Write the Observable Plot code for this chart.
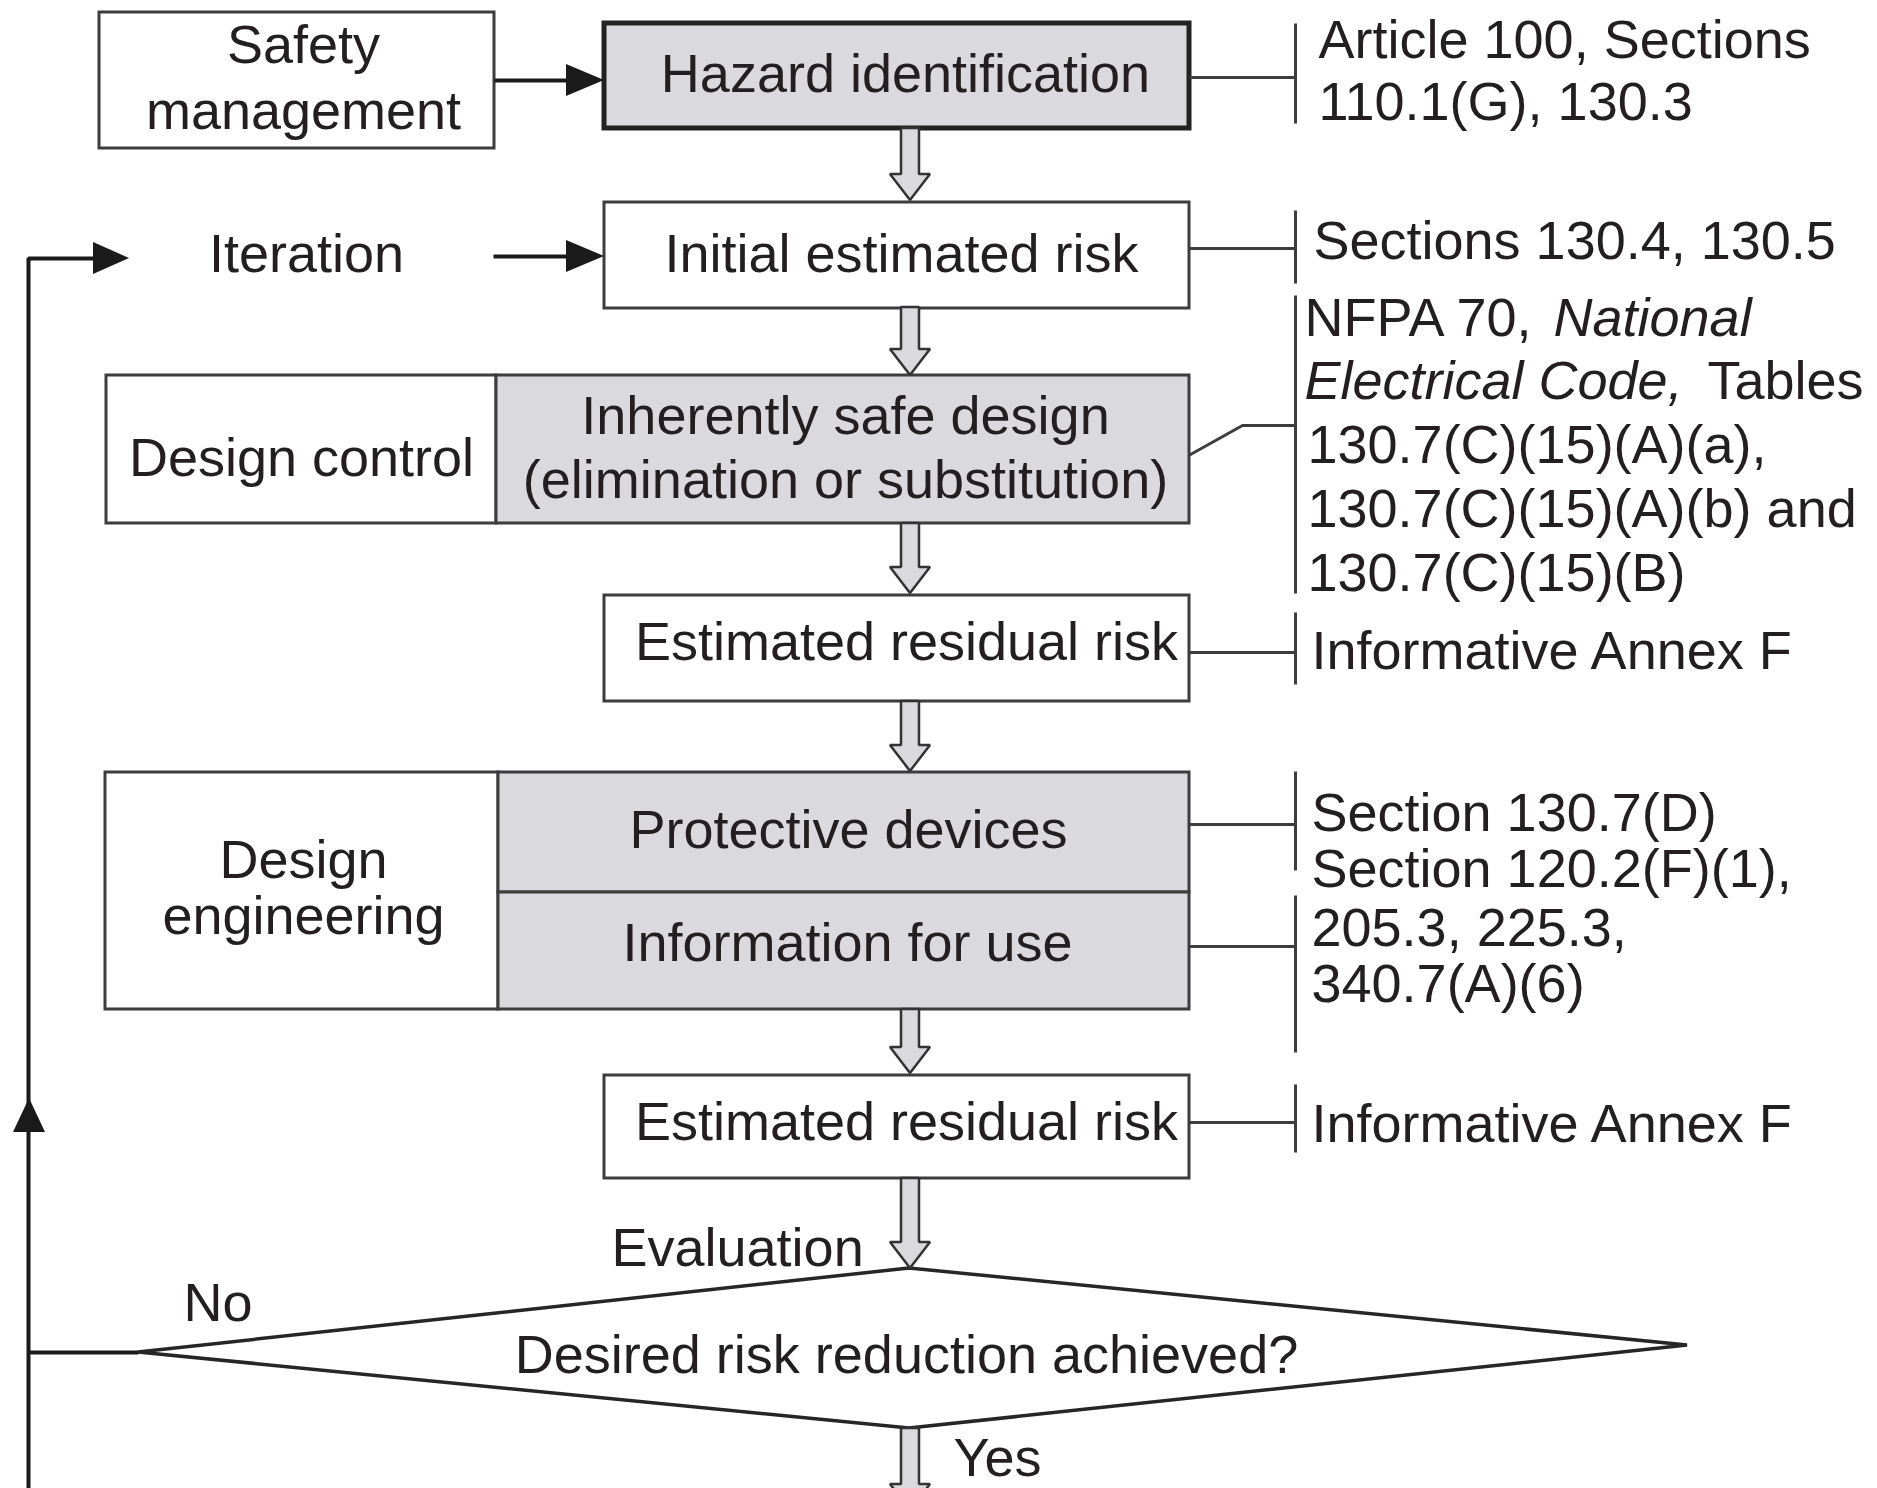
<!DOCTYPE html>
<html>
<head>
<meta charset="utf-8">
<script src="https://cdn.jsdelivr.net/npm/d3@7"></script>
<script src="https://cdn.jsdelivr.net/npm/@observablehq/plot@0.6"></script>
<style>
  html, body { margin: 0; padding: 0; background: #fff; overflow: hidden; }
  #chart svg { display: block; }
</style>
</head>
<body>
<div id="chart"></div>
<script>
// ---------------- content (text only) ----------------
const boxLines = [
  "Safety", "management",
  "Hazard identification",
  "Iteration",
  "Initial estimated risk",
  "Design control",
  "Inherently safe design", "(elimination or substitution)",
  "Estimated residual risk",
  "Design", "engineering",
  "Protective devices",
  "Information for use",
  "Estimated residual risk",
  "Desired risk reduction achieved?"
];
const flowLabels = ["Evaluation", "No", "Yes"];
const refLines = [
  "Article 100, Sections", "110.1(G), 130.3",
  "Sections 130.4, 130.5",
  "130.7(C)(15)(A)(a),", "130.7(C)(15)(A)(b) and", "130.7(C)(15)(B)",
  "Informative Annex F",
  "Section 130.7(D)", "Section 120.2(F)(1),", "205.3, 225.3,", "340.7(A)(6)",
  "Informative Annex F"
];
const refSegments = ["NFPA 70,", "National", "Electrical Code,", "Tables"];

// ---------------- layout (positions, sizes, styles) ----------------
const W = 1877, H = 1488;
const INK = "#231f20", LINE = "#3d3d3d", GRAY = "#d9d9de";
const FONT = "Liberation Sans, Arial, Helvetica, sans-serif";
const FS = 54;

const boxLinePos = [
  [303, 62], [303, 128],
  [905, 91],
  [306, 271],
  [901, 271],
  [301, 475],
  [845, 433], [845, 497],
  [906, 659],
  [303, 877], [303, 933],
  [848, 847],
  [847, 960],
  [906, 1139],
  [906, 1372]
];
const flowLabelPos = [[611, 1265], [183, 1320], [953, 1475]];
const refLinePos = [
  [1318, 57], [1318, 119],
  [1313, 258],
  [1307, 462], [1307, 526], [1307, 590],
  [1311, 668],
  [1311, 830], [1311, 886], [1311, 945], [1311, 1001],
  [1311, 1141]
];
const refSegPos = [[1304, 335], [1553, 335], [1304, 398], [1707, 398]];
const refSegItalic = [false, true, true, false];

// rects: x1, x2, y1, y2, fill
const boxRects = [
  [99, 494, 12, 148, "#ffffff"],
  [604, 1189, 202, 308, "#ffffff"],
  [106, 496, 375, 523, "#ffffff"],
  [496, 1189, 375, 523, GRAY],
  [604, 1189, 595, 701, "#ffffff"],
  [105, 498, 772, 1009, "#ffffff"],
  [498, 1189, 772, 892, GRAY],
  [498, 1189, 892, 1009, GRAY],
  [604, 1189, 1075, 1178, "#ffffff"]
];
const hazardRect = [[604, 1189, 23, 128, GRAY]];

// hollow arrows: start y, tip y (centre x shared)
const hollowArrows = [[128, 200], [307, 375], [523, 593], [701, 771], [1009, 1073], [1178, 1268], [1428, 1510]];
const arrowCx = 910, shaftHalf = 9, headHalf = 20, headLen = 26;

// diamond: left tip, top/bottom vertex, right tip
const diamond = [
  {x: 138, y1: 1352, y2: 1352},
  {x: 909, y1: 1268, y2: 1428},
  {x: 1687, y1: 1345, y2: 1345}
];

// grey connector lines and brackets
const connectors = [[1189, 77], [1189, 248], [1189, 652], [1189, 824], [1189, 946], [1189, 1122]];
const bracketX = 1295;
const brackets = [[23, 123], [210, 283], [295, 593], [612, 684], [771, 870], [895, 1052], [1084, 1152]];
const diagConnector = [[1190, 454], [1242, 425], [1295, 425]];

// black flow lines
const blackSegments = [[494, 80, 570, 80], [493, 256, 570, 256]];
const loopPath = [[28, 1488], [28, 258], [96, 258]];
const noPath = [[138, 1352], [28, 1352]];
// right-pointing arrowheads: base x, tip x, y, half height
const headsRight = [[566, 604, 80, 16], [566, 604, 256, 16], [93, 129, 258, 16]];
// up arrowhead: x, base y, tip y, half width
const headsUp = [[29, 1132, 1098, 16]];

// ---------------- derived mark data ----------------
const rectData = boxRects.map(([x1, x2, y1, y2, fill]) => ({x1, x2, y1, y2, fill}));
const hazardData = hazardRect.map(([x1, x2, y1, y2, fill]) => ({x1, x2, y1, y2, fill}));
const hollowData = hollowArrows.flatMap(([y0, tip], i) => {
  const yh = tip - headLen;
  return [
    {z: i, y: y0, x1: arrowCx - shaftHalf, x2: arrowCx + shaftHalf},
    {z: i, y: yh, x1: arrowCx - shaftHalf, x2: arrowCx + shaftHalf},
    {z: i, y: yh, x1: arrowCx - headHalf, x2: arrowCx + headHalf},
    {z: i, y: tip, x1: arrowCx, x2: arrowCx}
  ];
});
const connData = connectors.map(([x, y]) => ({x1: x, y1: y, x2: bracketX, y2: y}));
const bracketData = brackets.map(([y1, y2]) => ({x1: bracketX, y1, x2: bracketX, y2}));
const blackData = blackSegments.map(([x1, y1, x2, y2]) => ({x1, y1, x2, y2}));
const headRightData = headsRight.flatMap(([xb, xt, y, h], i) => [
  {z: i, x: xb, y1: y - h, y2: y + h},
  {z: i, x: xt, y1: y, y2: y}
]);
const headUpData = headsUp.flatMap(([x, yb, yt, h], i) => [
  {z: i, y: yb, x1: x - h, x2: x + h},
  {z: i, y: yt, x1: x, x2: x}
]);
const boxTextData = boxLines.map((t, i) => ({t, x: boxLinePos[i][0], y: boxLinePos[i][1]}));
const flowTextData = flowLabels.map((t, i) => ({t, x: flowLabelPos[i][0], y: flowLabelPos[i][1]}));
const refTextData = refLines.map((t, i) => ({t, x: refLinePos[i][0], y: refLinePos[i][1]}));
const segAll = refSegments.map((t, i) => ({t, x: refSegPos[i][0], y: refSegPos[i][1], it: refSegItalic[i]}));
const segNormal = segAll.filter(d => !d.it);
const segItalic = segAll.filter(d => d.it);

const textOpts = {fontFamily: FONT, fontSize: FS, fill: INK, lineAnchor: "bottom"};

const chart = Plot.plot({
  width: W,
  height: H,
  margin: 0,
  x: {type: "linear", domain: [0, W], range: [0, W], axis: null},
  y: {type: "linear", domain: [0, H], range: [0, H], axis: null},
  color: {type: "identity"},
  style: {background: "#ffffff", overflow: "hidden"},
  marks: [
    // decision diamond
    Plot.areaY(diamond, {x: "x", y1: "y1", y2: "y2", fill: "#ffffff", stroke: "#262626", strokeWidth: 3.5, strokeLinejoin: "miter"}),
    // boxes
    Plot.rect(rectData, {x1: "x1", x2: "x2", y1: "y1", y2: "y2", fill: "fill", stroke: LINE, strokeWidth: 3}),
    Plot.rect(hazardData, {x1: "x1", x2: "x2", y1: "y1", y2: "y2", fill: "fill", stroke: "#222", strokeWidth: 5}),
    // hollow flow arrows
    Plot.areaX(hollowData, {y: "y", x1: "x1", x2: "x2", z: "z", fill: GRAY, stroke: "#333", strokeWidth: 2.5, strokeLinejoin: "miter"}),
    // grey reference connectors and brackets
    Plot.link(connData, {x1: "x1", y1: "y1", x2: "x2", y2: "y2", stroke: LINE, strokeWidth: 3}),
    Plot.link(bracketData, {x1: "x1", y1: "y1", x2: "x2", y2: "y2", stroke: LINE, strokeWidth: 3}),
    Plot.line(diagConnector, {x: d => d[0], y: d => d[1], stroke: LINE, strokeWidth: 3, strokeLinejoin: "miter"}),
    // black flow lines
    Plot.link(blackData, {x1: "x1", y1: "y1", x2: "x2", y2: "y2", stroke: "#1a1a1a", strokeWidth: 4}),
    Plot.line(loopPath, {x: d => d[0], y: d => d[1], stroke: "#1a1a1a", strokeWidth: 4, strokeLinejoin: "miter", strokeLinecap: "butt"}),
    Plot.line(noPath, {x: d => d[0], y: d => d[1], stroke: "#1a1a1a", strokeWidth: 4, strokeLinecap: "butt"}),
    Plot.areaY(headRightData, {x: "x", y1: "y1", y2: "y2", z: "z", fill: "#1a1a1a"}),
    Plot.areaX(headUpData, {y: "y", x1: "x1", x2: "x2", z: "z", fill: "#1a1a1a"}),
    // texts
    Plot.text(boxTextData, {x: "x", y: "y", text: "t", textAnchor: "middle", ...textOpts}),
    Plot.text(flowTextData, {x: "x", y: "y", text: "t", textAnchor: "start", ...textOpts}),
    Plot.text(refTextData, {x: "x", y: "y", text: "t", textAnchor: "start", ...textOpts}),
    Plot.text(segNormal, {x: "x", y: "y", text: "t", textAnchor: "start", ...textOpts}),
    Plot.text(segItalic, {x: "x", y: "y", text: "t", textAnchor: "start", fontStyle: "italic", ...textOpts})
  ]
});
document.getElementById("chart").appendChild(chart);
</script>
</body>
</html>
